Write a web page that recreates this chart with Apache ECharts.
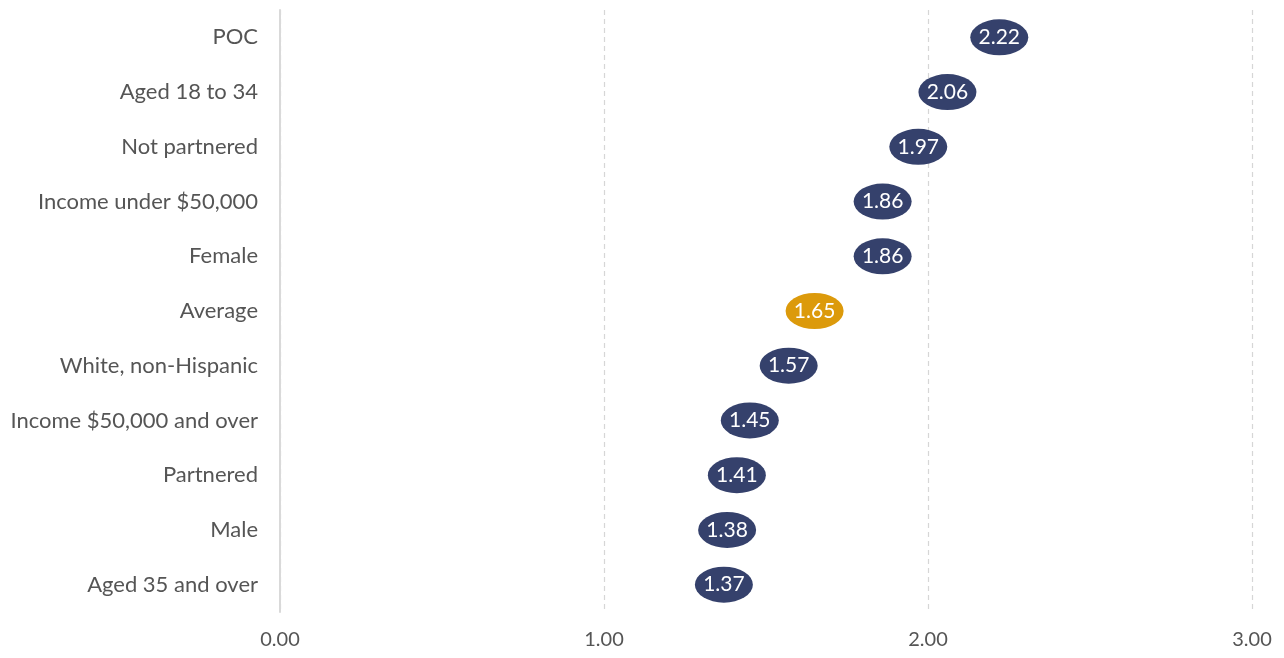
<!DOCTYPE html>
<html>
<head>
<meta charset="utf-8">
<script src="https://cdn.jsdelivr.net/npm/echarts@6/dist/echarts.min.js"></script>
<style>html,body{margin:0;padding:0;background:#fff;}#c{width:1284px;height:658px;}</style>
</head>
<body>
<div id="c"></div>
<script>
const categories = ["POC","Aged 18 to 34","Not partnered","Income under $50,000","Female","Average","White, non-Hispanic","Income $50,000 and over","Partnered","Male","Aged 35 and over"];
const values = [2.22,2.06,1.97,1.86,1.86,1.65,1.57,1.45,1.41,1.38,1.37];
const highlight = "Average";

const chart = echarts.init(document.getElementById('c'));
chart.setOption({
  animation: false,
  textStyle: {fontFamily: 'Lato'},
  grid: {left: 280, right: 32, top: 10, bottom: 46, containLabel: false},
  xAxis: {
    type: 'value', min: 0, max: 3, interval: 1,
    axisLine: {show: false}, axisTick: {show: false},
    axisLabel: {formatter: v => v.toFixed(2), color: '#555', fontSize: 20, margin: 18, fontFamily: 'Lato'},
    splitLine: {show: true, lineStyle: {color: '#d6d6d6', type: [5,4], width: 1.2}}
  },
  yAxis: {
    type: 'category', data: categories, inverse: true,
    axisLine: {show: true, lineStyle: {color: '#d9d9d9', width: 2}},
    axisTick: {show: false},
    axisLabel: {color: '#555', fontSize: 22, margin: 22, fontFamily: 'Lato'},
    splitLine: {show: false}
  },
  series: [{
    type: 'scatter',
    symbol: 'circle',
    symbolSize: [58, 36],
    data: values.map((v, i) => ({
      value: [v, categories[i]],
      itemStyle: {color: categories[i] === highlight ? '#dc9a0b' : '#35416c', opacity: 1}
    })),
    label: {show: true, position: 'inside', color: '#fff', fontSize: 21, fontFamily: 'Lato',
      formatter: p => p.value[0].toFixed(2)},
    emphasis: {disabled: true}
  }]
});
</script>
</body>
</html>
